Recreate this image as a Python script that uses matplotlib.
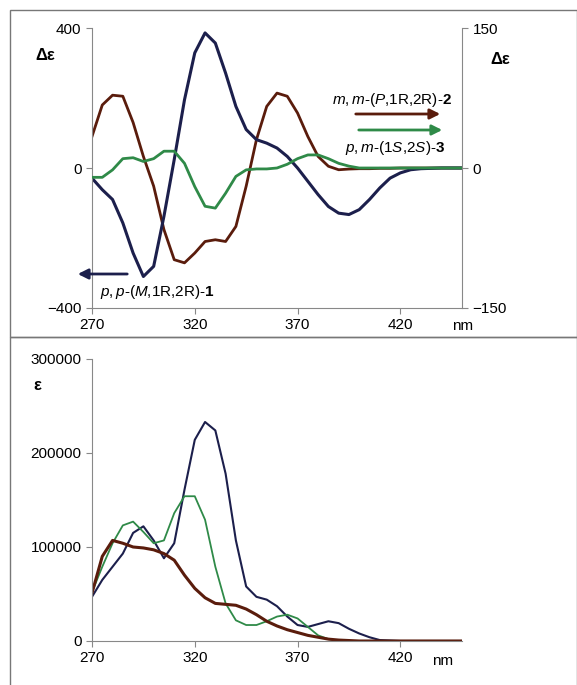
import matplotlib
matplotlib.use("Agg")
import matplotlib.pyplot as plt
from matplotlib.patches import Rectangle, FancyArrowPatch

plt.rcParams['font.family'] = ['Liberation Sans', 'DejaVu Sans']
plt.rcParams['mathtext.fontset'] = 'custom'
plt.rcParams['mathtext.it'] = 'Liberation Sans:italic'
plt.rcParams['mathtext.rm'] = 'Liberation Sans'
plt.rcParams['mathtext.bf'] = 'Liberation Sans:bold'

wl = list(range(270, 455, 5))
# CD (left axis)
cd_1 = [-29, -62, -90, -157, -243, -310, -281, -138, 24, 195, 329, 386, 357, 271, 176, 110, 81, 71, 57, 33,
        0, -38, -76, -110, -129, -133, -119, -90, -57, -29, -14, -5, -2, -1, 0, 0, 0]
cd_2 = [90, 180, 208, 205, 130, 33, -52, -176, -262, -271, -243, -210, -205, -210, -167, -52, 81, 176, 214, 205,
        157, 90, 33, 5, -5, -3, -2, -2, -1, -1, 0, 0, 0, 0, 0, 0, 0]
# CD (right axis)
cd_3 = [-10, -10, -2, 10, 11, 7, 10, 18, 18, 5, -20, -41, -43, -27, -9, -2, -1, -1, 0, 4,
        10, 14, 14, 10, 5, 2, 0, 0, 0, 0, 0, 0, 0, 0, 0, 0, 0]
# UV (thousands)
uv_1 = [47, 65, 79, 93, 115, 122, 107, 88, 104, 161, 214, 233, 224, 178, 107, 58, 47, 44, 37, 26,
        17, 15, 18, 21, 19, 13, 8, 4, 1, 0.5, 0, 0, 0, 0, 0, 0, 0]
uv_2 = [51, 90, 107, 104, 100, 99, 97, 93, 86, 70, 56, 46, 40, 39, 38, 34, 28, 21, 16, 12,
        9, 6, 4, 2, 1, 0.5, 0, 0, 0, 0, 0, 0, 0, 0, 0, 0, 0]
uv_3 = [52, 79, 104, 123, 127, 116, 104, 107, 136, 154, 154, 129, 79, 40, 22, 17, 17, 21, 26, 28,
        24, 15, 6, 2, 0, 0, 0, 0, 0, 0, 0, 0, 0, 0, 0, 0, 0]

C1, C2, C3 = '#1c1f4c', '#5a1c0c', '#2f8a48'
GRAY = '#888888'
W, H = 577, 685
fig = plt.figure(figsize=(W/100, H/100), dpi=100)

def fx(p): return p / W
def fy(p): return 1 - p / H

fig.patches.append(Rectangle((fx(10), fy(337)), fx(567), 327/H, transform=fig.transFigure,
                             fill=False, ec='#777777', lw=1))
fig.patches.append(Rectangle((fx(10), fy(690)), fx(567), 353/H, transform=fig.transFigure,
                             fill=False, ec='#777777', lw=1))

def style(ax):
    for s in ['top', 'right']:
        ax.spines[s].set_visible(False)
    for s in ['left', 'bottom']:
        ax.spines[s].set_color(GRAY)
    ax.tick_params(colors=GRAY, labelcolor='black', labelsize=11, length=4, direction='out')

ax = fig.add_axes([fx(92), fy(308), (462-92)/W, (308-28)/H])
ax.plot(wl, cd_2, color=C2, lw=2)
ax.plot(wl, cd_1, color=C1, lw=2.2)
ax.set_xlim(270, 450); ax.set_ylim(-400, 400)
ax.set_yticks([-400, 0, 400]); ax.set_xticks([270, 320, 370, 420])
style(ax)
ax2 = ax.twinx()
ax2.plot(wl, cd_3, color=C3, lw=2)
ax2.set_ylim(-150, 150); ax2.set_yticks([-150, 0, 150])
for s in ['top', 'left', 'bottom']:
    ax2.spines[s].set_visible(False)
ax2.spines['right'].set_color(GRAY)
ax2.tick_params(colors=GRAY, labelcolor='black', labelsize=11, length=4)

fig.text(fx(35), fy(60), 'Δε', fontsize=12, fontweight='bold')
fig.text(fx(490), fy(64), 'Δε', fontsize=12, fontweight='bold')
fig.text(fx(452), fy(330), 'nm', fontsize=11)

fig.text(fx(452), fy(100), r'$m,m$-($P$,1R,2R)-$\mathbf{2}$', fontsize=11, ha='right', va='center')
fig.text(fx(445), fy(148), r'$p,m$-(1$S$,2$S$)-$\mathbf{3}$', fontsize=11, ha='right', va='center')
fig.text(fx(100), fy(292), r'$p,p$-($M$,1R,2R)-$\mathbf{1}$', fontsize=11, ha='left', va='center')
for (x0, x1, y, c) in [(353, 443, 114, C2), (356, 445, 130, C3), (130, 75, 274, C1)]:
    fig.patches.append(FancyArrowPatch((fx(x0), fy(y)), (fx(x1), fy(y)), transform=fig.transFigure,
                                       arrowstyle='-|>,head_length=6,head_width=3', color=c, lw=2))

bx = fig.add_axes([fx(92), fy(641), (462-92)/W, (641-359)/H])
bx.plot(wl, [v*1000 for v in uv_1], color=C1, lw=1.5)
bx.plot(wl, [v*1000 for v in uv_3], color=C3, lw=1.3)
bx.plot(wl, [v*1000 for v in uv_2], color=C2, lw=2.2)
bx.set_xlim(270, 450); bx.set_ylim(0, 300000)
bx.set_yticks([0, 100000, 200000, 300000]); bx.set_xticks([270, 320, 370, 420])
style(bx)
fig.text(fx(33), fy(390), 'ε', fontsize=12, fontweight='bold')
fig.text(fx(432), fy(665), 'nm', fontsize=11)

fig.savefig('out.png', dpi=100)
